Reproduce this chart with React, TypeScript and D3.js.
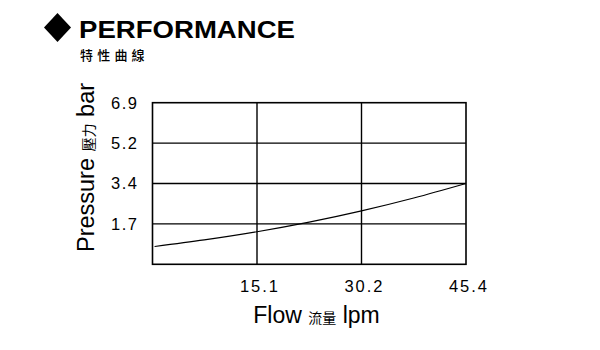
import React from "react";
import * as d3 from "d3";

const flowLpm = [0.3, 7.5, 15.14, 22.7, 30.28, 37.85, 45.42];
const pressureBar = [0.76, 1.04, 1.39, 1.8, 2.28, 2.83, 3.45];
const xTickValues = [15.14, 30.28, 45.42];
const xTickLabels = ["15.1", "30.2", "45.4"];
const yTickValues = [1.725, 3.45, 5.175, 6.9];
const yTickLabels = ["1.7", "3.4", "5.2", "6.9"];

const W = 600;
const H = 350;
const M = { left: 152.5, right: 466, top: 102.7, bottom: 264.3 };
const FONT = "'Liberation Sans', Arial, sans-serif";
const CJK = "'Noto Sans CJK TC', 'Noto Sans CJK SC', sans-serif";

export default function App() {
  const x = d3.scaleLinear().domain([0, 45.42]).range([M.left, M.right]);
  const y = d3.scaleLinear().domain([0, 6.9]).range([M.bottom, M.top]);
  const pts: [number, number][] = flowLpm.map((f, i) => [f, pressureBar[i]]);
  const line = d3
    .line<[number, number]>()
    .x((d) => x(d[0]))
    .y((d) => y(d[1]))
    .curve(d3.curveMonotoneX);

  return (
    <svg
      width={W}
      height={H}
      style={{ position: "absolute", left: 0, top: 0, background: "#fff" }}
    >
      <rect x={0} y={0} width={W} height={H} fill="#fff" />
      {/* Title */}
      <path d="M57.5,13 L71,27.5 L57.5,42 L44,27.5 Z" fill="#000" />
      <text
        x={79}
        y={38.3}
        fontFamily={FONT}
        fontWeight="bold"
        fontSize={24.5}
        textLength={216}
        lengthAdjust="spacingAndGlyphs"
        fill="#000"
      >
        PERFORMANCE
      </text>
      <text
        x={80}
        y={59.5}
        fontFamily={CJK}
        fontSize={13}
        fontWeight={500}
        letterSpacing={4.2}
        fill="#000"
      >
        特性曲線
      </text>

      {/* Grid */}
      {xTickValues.slice(0, -1).map((v, i) => (
        <line
          key={"gx" + i}
          x1={x(v)}
          x2={x(v)}
          y1={M.top}
          y2={M.bottom}
          stroke="#000"
          strokeWidth={1.4}
        />
      ))}
      {yTickValues.slice(0, -1).map((v, i) => (
        <line
          key={"gy" + i}
          x1={M.left}
          x2={M.right}
          y1={y(v)}
          y2={y(v)}
          stroke="#000"
          strokeWidth={1.4}
        />
      ))}
      <rect
        x={M.left}
        y={M.top}
        width={M.right - M.left}
        height={M.bottom - M.top}
        fill="none"
        stroke="#000"
        strokeWidth={1.6}
      />

      {/* Curve */}
      <path d={line(pts) || ""} fill="none" stroke="#000" strokeWidth={1.2} />

      {/* Y tick labels */}
      {yTickValues.map((v, i) => (
        <text
          key={"yl" + i}
          x={111}
          y={y(v)}
          dy="0.36em"
          fontFamily={FONT}
          fontSize={16.5}
          letterSpacing={1.5}
          fill="#000"
        >
          {yTickLabels[i]}
        </text>
      ))}

      {/* X tick labels */}
      {xTickValues.map((v, i) => (
        <text
          key={"xl" + i}
          x={x(v) + 3}
          y={291.7}
          textAnchor="middle"
          fontFamily={FONT}
          fontSize={16.5}
          letterSpacing={2}
          fill="#000"
        >
          {xTickLabels[i]}
        </text>
      ))}

      {/* Y axis title */}
      <text
        transform="translate(94,167.5) rotate(-90)"
        textAnchor="middle"
        fontFamily={FONT}
        fontSize={23.5}
        fill="#000"
      >
        Pressure{" "}
        <tspan fontFamily={CJK} fontSize={14}>
          壓力
        </tspan>{" "}
        bar
      </text>

      {/* X axis title */}
      <text
        x={316.5}
        y={323.3}
        textAnchor="middle"
        fontFamily={FONT}
        fontSize={23}
        fill="#000"
      >
        Flow{" "}
        <tspan fontFamily={CJK} fontSize={14}>
          流量
        </tspan>{" "}
        lpm
      </text>
    </svg>
  );
}
